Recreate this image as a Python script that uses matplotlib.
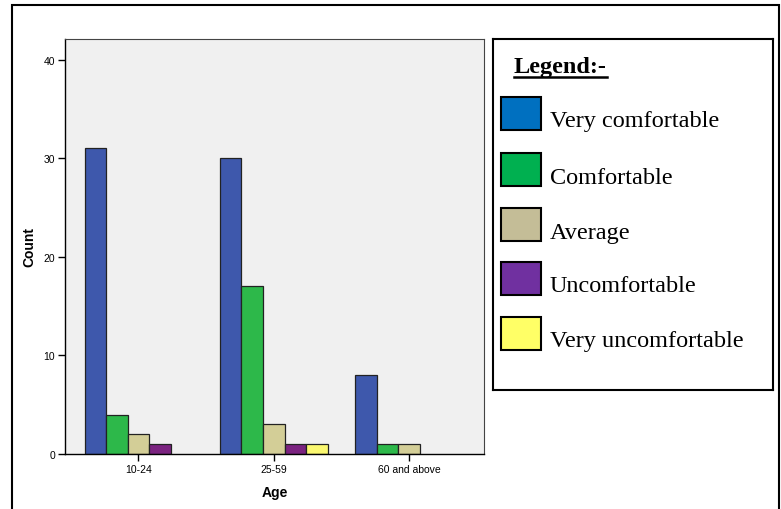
import matplotlib.pyplot as plt
import numpy as np
from matplotlib.patches import Rectangle

# data
age_groups = ['10-24', '25-59', '60 and above']
levels = ['Very comfortable', 'Comfortable', 'Average', 'Uncomfortable', 'Very uncomfortable']
very_comfortable = [31, 30, 8]
comfortable = [4, 17, 1]
average = [2, 3, 1]
uncomfortable = [1, 1, 0]
very_uncomfortable = [0, 1, 0]
counts = [very_comfortable, comfortable, average, uncomfortable, very_uncomfortable]

bar_colors = ['#3E58AC', '#2DB84A', '#D3CE97', '#7B2380', '#FBF870']
legend_colors = ['#0070C0', '#00B050', '#C4BD97', '#7030A0', '#FFFF66']

plt.rcParams['font.family'] = ['Liberation Sans', 'DejaVu Sans']

W, H = 781, 510
fig = plt.figure(figsize=(W / 100, H / 100), dpi=100)

def px_axes(x0, y0, x1, y1):
    return fig.add_axes([x0 / W, 1 - y1 / H, (x1 - x0) / W, (y1 - y0) / H])

# outer frame
fig.patches.append(Rectangle((12 / W, -0.05), (779 - 12) / W, 1 - 6 / H + 0.05,
                             transform=fig.transFigure, fill=False,
                             edgecolor='black', linewidth=1.5))

ax = px_axes(65, 40, 484, 455)
ax.set_facecolor('#F0F0F0')
x = np.arange(len(age_groups))
bw = 0.159
for i, (vals, c) in enumerate(zip(counts, bar_colors)):
    lw = [0.9 if v > 0 else 0 for v in vals]
    ax.bar(x + (i - 2) * bw, vals, width=bw, color=c, edgecolor='#222222', linewidth=lw)

ax.set_xlim(-0.542, 2.553)
ax.set_ylim(0, 42.1)
ax.set_yticks([0, 10, 20, 30, 40])
ax.set_xticks(x)
ax.set_xticklabels(age_groups)
ax.tick_params(axis='both', labelsize=7.5, length=5, width=1, direction='out', pad=2)
for s in ['top', 'right']:
    ax.spines[s].set_color('#444444')
    ax.spines[s].set_linewidth(0.8)
for s in ['left', 'bottom']:
    ax.spines[s].set_linewidth(1)
ax.set_xlabel('Age', fontsize=10, fontweight='bold', labelpad=8)
ax.set_ylabel('Count', fontsize=10, fontweight='bold', labelpad=5)

# legend box
lg = px_axes(493, 40, 773, 391)
lg.set_xlim(0, 280)
lg.set_ylim(351, 0)
lg.set_xticks([])
lg.set_yticks([])
for s in lg.spines.values():
    s.set_linewidth(1.5)
lg.text(21, 28, 'Legend:-', family='Liberation Serif', fontsize=17.5,
        fontweight='bold', va='center', ha='left')
lg.plot([21, 114], [37.5, 37.5], color='black', linewidth=1.8)
centers = [74, 130, 185, 239, 294]
for cy, lab, c in zip(centers, levels, legend_colors):
    lg.add_patch(Rectangle((8, cy - 16.5), 40, 33, facecolor=c,
                           edgecolor='black', linewidth=1.5))
    lg.text(57, cy + 8, lab, family='Liberation Serif', fontsize=17.5,
            va='center', ha='left')

fig.savefig('out.png', dpi=100)
